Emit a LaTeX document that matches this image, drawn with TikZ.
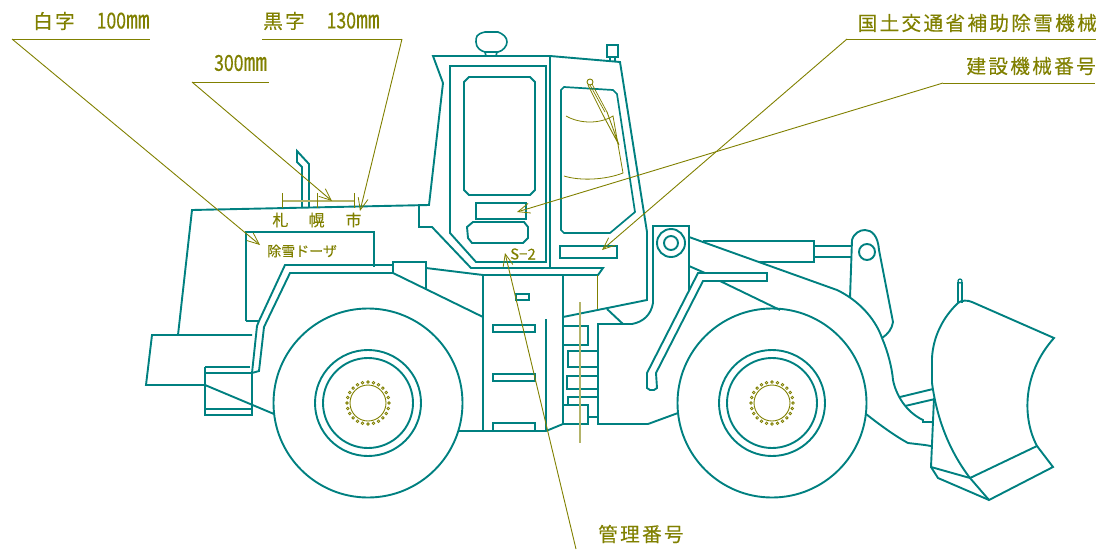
\documentclass[tikz,border=0pt]{standalone}
\usepackage{fontspec}
\setmainfont{Noto Sans CJK JP}
\newfontfamily\lblfont[LetterSpace=12,FakeBold=0.25]{Noto Sans CJK JP}
\newfontfamily\numfont[FakeStretch=0.8,FakeBold=0.25]{Noto Sans CJK JP}
\newfontfamily\mmfont[FakeStretch=0.95,FakeBold=0.2]{Noto Sans CJK JP}
\newfontfamily\boldish[FakeBold=0.2]{Noto Sans CJK JP}
\newfontfamily\spaced[FakeBold=0.1]{Noto Sans CJK JP}
\usetikzlibrary{arrows.meta}
\definecolor{mach}{HTML}{008080}
\definecolor{ann}{HTML}{808000}
\definecolor{annl}{HTML}{B4B46A}
\tikzset{
 mc/.style={draw=mach,line width=1.9pt,line join=miter},
 ol/.style={draw=ann,line width=0.9pt},
 oll/.style={draw=annl,line width=1.5pt},
 leader/.style={draw=ann,line width=0.9pt,-{Straight Barb[length=12pt,width=10pt,line width=0.8pt]}},
 under/.style={draw=ann,line width=1pt},
 lbl/.style={text=ann,font=\lblfont\fontsize{19.6}{19}\selectfont,inner sep=0pt},
 sml/.style={text=ann,font=\boldish\fontsize{14}{14}\selectfont,inner sep=0pt},
 mid/.style={text=ann,font=\boldish\fontsize{16}{16}\selectfont,inner sep=0pt},
 stwo/.style={text=ann,font=\spaced\fontsize{15}{15}\selectfont,inner sep=0pt},
}
\newcommand{\dimtext}[1]{{\numfont\fontsize{22}{22}\selectfont #1}}
\newcommand{\mmtext}{{\mmfont\fontsize{25}{22}\selectfont ㎜}}
\newcommand{\wheelat}[2]{%
 \draw[mc] (#1,#2) circle[radius=94.5];
 \draw[mc] (#1,#2) circle[radius=53];
 \draw[mc] (#1,#2) circle[radius=45];
 \draw[ol] (#1,#2) circle[radius=18];
 \foreach \a in {0,15,...,345}{\draw[draw=ann,line width=0.8pt] (#1,#2)++(\a:21) circle[radius=1.3];}
}
\begin{document}
\begin{tikzpicture}[x=1pt,y=-1pt]
\useasboundingbox (0,0) rectangle (1100,549);
% --- body
\draw[mc] (178,335) -- (192,210) -- (429,205) -- (443,83) -- (433,56) -- (550,56) -- (620,62) -- (647,232) -- (647,300) -- (563,317);
\draw[mc] (429,205) -- (419,205) -- (419,227) -- (432,227) -- (471,268) -- (603,268) -- (598,275) -- (483,275) -- (426,268);
\draw[mc] (550,56) -- (550,268);
% stack
\draw[mc] (302,208) -- (302,167) -- (297,162) -- (297,151) -- (309,164) -- (309,208);
% hood panel
\draw[mc] (246,321) -- (246,232) -- (374,232) -- (374,267);
\draw[mc] (246,321) -- (259,321);
% fender
\draw[mc] (252,373) -- (257,326) -- (259,321) -- (285,265) -- (393,265);
\draw[mc] (252,373) -- (259,371) -- (264,327) -- (290,273) -- (393,273) -- (483,317);
\draw[mc] (393,273) -- (393,262) -- (426,262) -- (426,289);
% rear
\draw[mc] (252,335) -- (152,335) -- (146,385) -- (205,385) -- (274,414);
\draw[mc] (205,367) -- (250,367);
\draw[mc] (205,367) -- (205,415) -- (252,415) -- (252,373) -- (205,373);
\draw[mc] (205,409) -- (252,409);
% door
\draw[mc] (450,66) -- (546,66) -- (546,262) -- (476,262) -- (450,233) -- cycle;
\draw[mc] (469,77) -- (530,77) -- (535,82) -- (535,190) -- (530,195) -- (469,195) -- (464,190) -- (464,82) -- cycle;
\draw[mc] (476,203) rectangle (526,219);
\draw[mc] (473,222) -- (524,222) -- (528,227) -- (528,238) -- (523,243) -- (472,243) -- (468,238) -- (467,227) -- cycle;
% beacon, box
\draw[mc,line width=1.6pt] (485,32) .. controls (476,34) and (476,37) .. (476,42) .. controls (476,48) and (481,51) .. (485,52) -- (498,52) .. controls (503,51) and (507,46) .. (507,42) .. controls (507,37) and (503,34) .. (498,32) -- cycle;
\draw[mc,line width=1.6pt] (485,52) -- (486,56) (497,52) -- (496,56);
\draw[mc,line width=1.6pt] (607,45) rectangle (618,57);
\draw[mc,line width=1.6pt] (610,57) -- (610,61) (615,57) -- (615,61);
% front window
\draw[mc,line width=1.7pt] (564,87) -- (613,90) -- (617,94) -- (635,212) -- (610,233) -- (564,233) -- (561,230) -- (561,90) -- cycle;
\draw[mc] (560,246) rectangle (617,258);
% wiper
\draw[ol] (590,82) circle[radius=3];
\draw[ol,line width=0.7pt] (588,85) -- (603,115) (590,85) -- (605,112) (592,84) -- (607,112);
\draw[ol] (603,115) -- (619,145) (607,112) -- (619,145);
\draw[ol,line width=0.8pt] (566,116) .. controls (580,124) and (600,124) .. (613,116) -- (623,173) .. controls (605,180) and (580,181) .. (564,176);
% centre frame
\draw[mc] (483,275) -- (483,431);
\draw[mc] (563,275) -- (563,424);
\draw[mc] (458,431) -- (546,431) -- (563,424);
\draw[mc,line width=1.4pt] (546,319) -- (546,431);
\draw[mc,line width=1.6pt] (516,294) rectangle (529,300);
\draw[mc,line width=1.6pt] (493,325) rectangle (535,332);
\draw[mc,line width=1.6pt] (493,374) rectangle (535,381);
\draw[mc,line width=1.6pt] (493,431) -- (493,423) -- (535,423) -- (535,431);
% right boxes
\draw[mc] (563,326) -- (588,326) -- (588,345) -- (563,345);
\draw[mc] (598,351) -- (568,351) -- (568,367) -- (598,367);
\draw[mc] (598,376) -- (567,376) -- (567,389) -- (598,389);
\draw[mc] (598,397) -- (568,397) -- (568,405);
\draw[mc] (563,405) -- (588,405) -- (588,424) -- (563,424);
\draw[mc] (588,417) -- (598,417);
\draw[mc] (623,324) -- (598,324) -- (598,424) -- (648,424) -- (678,413);
\draw[mc] (607,309) -- (623,324) -- (632,324) .. controls (643,322) and (651,315) .. (653,303) -- (653,226) -- (689,226) -- (689,290);
% pivot
\draw[mc] (671,243) circle[radius=14];
\draw[mc] (671,243) circle[radius=7];
% lift arm
\draw[mc] (689,237) -- (837,290) .. controls (858,300) and (875,318) .. (882,338) .. controls (888,352) and (892,368) .. (893,380) .. controls (896,395) and (906,412) .. (923,420) -- (923,422) -- (933,422);
\draw[mc] (689,266) -- (705,273);
\draw[mc] (720,281) -- (780,310);
\draw[mc] (866,414) .. controls (880,425) and (895,436) .. (908,443) -- (925,445) -- (931,446);
% cylinder
\draw[mc] (703,241) -- (814,241) -- (814,262) -- (758,262);
\draw[mc] (814,246) -- (852,246) (814,257) -- (852,257);
% bell crank
\draw[mc] (850,298) -- (852,240) .. controls (854,233) and (860,230) .. (865,230) .. controls (872,230) and (878,236) .. (879,250) -- (893,322) .. controls (892,329) and (888,334) .. (882,338);
\draw[mc] (867,252) circle[radius=8];
% tube
\draw[mc] (647,373) -- (698,273) -- (767,273) -- (767,281) -- (703,281) -- (656,373) -- (657,388) -- (654,390) -- (650,390) -- (647,388) -- cycle;
% blade
\draw[mc,line width=1.5pt] (958,303) -- (958,282) (962,303) -- (962,282);
\draw[mc,line width=1.2pt] (960,281) circle[radius=2];
\draw[mc] (972,302) .. controls (968,300) and (961,300) .. (958,303) .. controls (942,318) and (933,338) .. (932,358) -- (932,383) .. controls (937,420) and (950,452) .. (970,478) -- (1037,446) .. controls (1023,420) and (1021,375) .. (1054,338) -- cycle;
\draw[mc] (1037,446) -- (1053,467) -- (989,500) -- (970,478) -- (931,467) -- (934,398);
\draw[mc] (931,467) -- (938,478) -- (989,500);
\draw[mc] (900,397) -- (933,389);
\draw[mc] (905,406) -- (935,399);
% wheels
\wheelat{368}{403}
\wheelat{772}{403}
% olive guide lines
\draw[oll] (580,302) -- (580,443);
\draw[ol] (597,275) -- (597,309);
% dimension
\draw[oll] (282,201) -- (354,201);
\draw[ol] (282,193) -- (282,208) (317,193) -- (317,208) (354,193) -- (354,208);
% --- texts
\node[lbl,anchor=west] (t1) at (33,21) {白字　\dimtext{100}\mmtext};
\node[lbl,anchor=west] (t2) at (263,21) {黒字　\dimtext{130}\mmtext};
\node[lbl,anchor=west] (t3) at (214,63) {\dimtext{300}\mmtext};
\node[lbl,anchor=east] (t4) at (1097,23) {国土交通省補助除雪機械};
\node[lbl,anchor=east] (t5) at (1096,66) {建設機械番号};
\node[lbl,anchor=west] (t6) at (598,534) {管理番号};
\node[mid] (c1) at (280.5,220) {札};
\node[mid] (c2) at (316.5,220) {幌};
\node[mid] (c3) at (353.5,220) {市};
\node[sml,anchor=west] (d1) at (267,251) {除雪ドーザ};
\node[stwo,anchor=west] (s2) at (510,254) {S−2};
% --- leaders
\coordinate (a1) at (12,39); \coordinate (a1e) at (150,39); \coordinate (a1t) at (260,245);
\coordinate (a2) at (402,39); \coordinate (a2e) at (262,39); \coordinate (a2t) at (360,211);
\coordinate (a3) at (192,82); \coordinate (a3e) at (269,82); \coordinate (a3t) at (332,201);
\coordinate (a4) at (847,39); \coordinate (a4e) at (1096,39); \coordinate (a4t) at (602,250);
\coordinate (a5) at (943,83); \coordinate (a5e) at (1095,83); \coordinate (a5t) at (517,212);
\coordinate (a6) at (576,549); \coordinate (a6t) at (505,253);
\draw[under] (a1) -- (a1e);
\draw[under] (a2) -- (a2e);
\draw[under] (a3) -- (a3e);
\draw[under] (a4) -- (a4e);
\draw[under] (a5) -- (a5e);
\draw[leader] (a1) -- (a1t);
\draw[leader] (a2) -- (a2t);
\draw[leader] (a3) -- (a3t);
\draw[leader] (a4) -- (a4t);
\draw[leader] (a5) -- (a5t);
\draw[leader] (a6) -- (a6t);
\end{tikzpicture}
\end{document}
